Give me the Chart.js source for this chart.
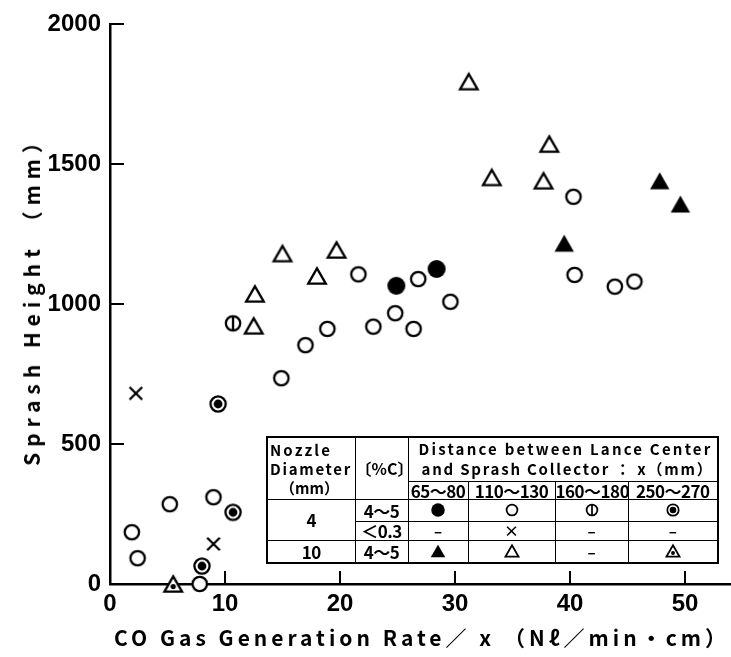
<!DOCTYPE html>
<html>
<head>
<meta charset="utf-8">
<script src="https://cdn.jsdelivr.net/npm/chart.js@4/dist/chart.umd.min.js"></script>
<style>
  body { margin: 0; background: #fff; }
  #wrap { position: relative; width: 731px; height: 657px; overflow: hidden; }
  #chart { position: absolute; left: 0; top: 0; }
  .title { position: absolute; font-family: "Noto Sans CJK JP", "DejaVu Sans", sans-serif; font-weight: 700; color: #000;
           white-space: nowrap; font-size: 21px; line-height: 30px; }
  #xTitle { left: 114px; top: 622px; }
  #yTitle { left: 31px; top: 296px; transform: translate(-50%, -50%) rotate(-90deg); }
  #legendTable { position: absolute; left: 266px; top: 436px; width: 451px; border-collapse: collapse; table-layout: fixed;
                 border: 2px solid #000; font-family: "Noto Sans CJK JP", "DejaVu Sans", sans-serif; font-weight: 700;
                 font-size: 15px; color: #000; }
  #legendTable td { border: 1.5px solid #000; padding: 0; text-align: center; vertical-align: middle; line-height: 15px;
                    overflow: hidden; white-space: nowrap; }
  #legendTable td.num { font-family: "Liberation Sans Narrow", "Noto Sans CJK JP", sans-serif; font-size: 17px; letter-spacing: -0.5px; }
  #legendTable td canvas { display: block; margin: 0 auto; }
  .line { display: block; white-space: nowrap; text-align: left; }
</style>
</head>
<body>
<div id="wrap">
  <canvas id="chart" width="731" height="657"></canvas>
  <div class="title fit" id="yTitle" data-w="340">Sprash Height （mm）</div>
  <div class="title fit" id="xTitle" data-w="616">CO Gas Generation Rate／ x （Nℓ／min・cm）</div>
  <table id="legendTable">
    <colgroup>
      <col style="width:88px"><col style="width:53px"><col style="width:60px">
      <col style="width:87px"><col style="width:73px"><col style="width:90px">
    </colgroup>
    <tr style="height:44px">
      <td rowspan="2" style="text-align:left; padding-left:2px; line-height:19px">
        <span class="line fit" data-w="62">Nozzle</span><span class="line fit" data-w="82">Diameter</span><span class="line" style="padding-left:10px">（mm）</span>
      </td>
      <td rowspan="2" style="font-size:16px">〔%C〕</td>
      <td colspan="4" style="line-height:20px">
        <span class="line fit" data-w="294" style="margin-left:10px">Distance between Lance Center</span>
        <span class="line fit" data-w="292" style="margin-left:13px">and Sprash Collector ： x（mm）</span>
      </td>
    </tr>
    <tr style="height:18px" id="rangeRow"></tr>
    <tr style="height:22px" id="row1"></tr>
    <tr style="height:19px" id="row2"></tr>
    <tr style="height:23px" id="row3"></tr>
  </table>
</div>
<script>
// Sprash height vs CO gas generation rate, grouped by nozzle / carbon / lance distance
const openCircle = [[1.9, 185], [2.4, 92], [5.2, 285], [9.0, 310], [7.8, 0], [14.9, 735], [17.0, 853],
  [18.9, 911], [21.6, 1106], [22.9, 919], [24.8, 967], [26.4, 911], [26.8, 1089], [29.6, 1008],
  [40.3, 1383], [40.4, 1104], [43.9, 1062], [45.6, 1080]];
const solidCircle = [[24.9, 1065], [28.4, 1125]];
const splitCircle = [[10.7, 931]];
const dotCircle = [[9.4, 643], [8.0, 64], [10.7, 256]];
const crossMark = [[2.25, 681], [9.0, 143]];
const openTriangle = [[12.6, 1036], [12.5, 922], [15.0, 1180], [18.0, 1100], [19.7, 1193],
  [31.2, 1794], [33.2, 1452], [37.7, 1440], [38.2, 1571]];
const solidTriangle = [[39.5, 1217], [47.8, 1440], [49.6, 1357]];
const dotTriangle = [[5.5, 0]];

// legend table text
const distanceRanges = ['65～80', '110～130', '160～180', '250～270'];
const nozzleSizes = ['4', '10'];
const carbonLevels = ['4～5', '＜0.3', '4～5'];

const xTicks = [0, 10, 20, 30, 40, 50];
const yTicks = [0, 500, 1000, 1500, 2000];

// marker glyphs drawn on small canvases, k scales them
function marker(k, draw) {
  const size = Math.ceil(26 * k);
  const c = document.createElement('canvas');
  c.width = c.height = size;
  const g = c.getContext('2d');
  g.translate(size / 2, size / 2);
  g.strokeStyle = '#000';
  g.fillStyle = '#000';
  g.lineWidth = 2.3 * k;
  draw(g, k);
  return c;
}
function ring(g, r) {
  g.beginPath();
  g.arc(0, 0, r, 0, Math.PI * 2);
  g.fillStyle = '#fff';
  g.fill();
  g.stroke();
  g.fillStyle = '#000';
}
function tri(g, hw) {
  const h = hw * Math.sqrt(3);
  g.beginPath();
  g.moveTo(0, -h / 2);
  g.lineTo(hw, h / 2);
  g.lineTo(-hw, h / 2);
  g.closePath();
}
const glyphs = {
  openCircle: (g, k) => ring(g, 7.2 * k),
  solidCircle: (g, k) => { g.beginPath(); g.arc(0, 0, 9 * k, 0, Math.PI * 2); g.fill(); },
  splitCircle: (g, k) => {
    ring(g, 7.2 * k);
    g.beginPath(); g.moveTo(0, -7.2 * k); g.lineTo(0, 7.2 * k); g.stroke();
  },
  dotCircle: (g, k) => {
    ring(g, 7.6 * k);
    g.beginPath(); g.arc(0, 0, 4.4 * k, 0, Math.PI * 2); g.fill();
  },
  crossMark: (g, k) => {
    const d = 6.3 * k;
    g.beginPath(); g.moveTo(-d, -d); g.lineTo(d, d); g.moveTo(d, -d); g.lineTo(-d, d); g.stroke();
  },
  openTriangle: (g, k) => {
    g.lineJoin = 'miter';
    tri(g, 8.8 * k);
    g.fillStyle = '#fff'; g.fill(); g.stroke();
  },
  solidTriangle: (g, k) => { tri(g, 9.7 * k); g.fill(); },
  dotTriangle: (g, k) => {
    g.lineJoin = 'miter';
    tri(g, 8.8 * k);
    g.fillStyle = '#fff'; g.fill(); g.stroke();
    g.fillStyle = '#000';
    g.beginPath(); g.arc(0, 2.6 * k, 2.6 * k, 0, Math.PI * 2); g.fill();
  }
};

const series = { openCircle, solidCircle, splitCircle, dotCircle, crossMark, openTriangle, solidTriangle, dotTriangle };

const datasets = Object.keys(series).map(name => ({
  label: name,
  data: series[name].map(p => ({ x: p[0], y: p[1] })),
  pointStyle: marker(1, glyphs[name]),
  pointRadius: 9,
  clip: false
}));

const inwardTicks = {
  id: 'inwardTicks',
  beforeDatasetsDraw(chart) {
    const { ctx, chartArea: a, scales: { x, y } } = chart;
    ctx.save();
    ctx.strokeStyle = '#000';
    ctx.lineWidth = 2;
    ctx.beginPath();
    y.ticks.forEach(t => {
      if (t.value === 0) return;
      const py = Math.round(y.getPixelForValue(t.value));
      ctx.moveTo(a.left, py);
      ctx.lineTo(a.left + 14, py);
    });
    x.ticks.forEach(t => {
      if (t.value === 0) return;
      const px = Math.round(x.getPixelForValue(t.value));
      ctx.moveTo(px, a.bottom);
      ctx.lineTo(px, a.bottom - 13);
    });
    ctx.stroke();
    ctx.restore();
  }
};

const tickFont = { family: '"Liberation Sans Narrow", "Liberation Sans", sans-serif', weight: 'bold', size: 24 };
const plain = v => String(v);

new Chart(document.getElementById('chart'), {
  type: 'scatter',
  data: { datasets },
  options: {
    responsive: false,
    animation: false,
    devicePixelRatio: 1,
    layout: { autoPadding: false, padding: { top: 24, right: 0, left: 0, bottom: 0 } },
    plugins: { legend: { display: false }, tooltip: { enabled: false } },
    scales: {
      x: {
        type: 'linear', min: 0, max: 54,
        afterBuildTicks: s => { s.ticks = xTicks.map(v => ({ value: v })); },
        afterFit: s => { s.height = 73; },
        grid: { display: false, drawTicks: false },
        border: { display: true, color: '#000', width: 2.5 },
        ticks: { color: '#000', font: tickFont, padding: 6, maxRotation: 0, callback: plain }
      },
      y: {
        type: 'linear', min: 0, max: 2000,
        afterBuildTicks: s => { s.ticks = yTicks.map(v => ({ value: v })); },
        afterFit: s => { s.width = 110; },
        grid: { display: false, drawTicks: false },
        border: { display: true, color: '#000', width: 2.5 },
        ticks: { color: '#000', font: tickFont, padding: 9, callback: plain }
      }
    }
  },
  plugins: [inwardTicks]
});

// fill in the legend table rows
function cellText(tr, text, cls) {
  const td = document.createElement('td');
  td.textContent = text;
  if (cls) td.className = cls;
  tr.appendChild(td);
  return td;
}
function cellGlyph(tr, name) {
  const td = document.createElement('td');
  td.appendChild(marker(0.75, glyphs[name]));
  tr.appendChild(td);
}
const rangeRow = document.getElementById('rangeRow');
distanceRanges.forEach(r => cellText(rangeRow, r, 'num'));

const row1 = document.getElementById('row1');
const noz = cellText(row1, nozzleSizes[0], 'num');
noz.rowSpan = 2;
cellText(row1, carbonLevels[0], 'num');
['solidCircle', 'openCircle', 'splitCircle', 'dotCircle'].forEach(n => cellGlyph(row1, n));

const row2 = document.getElementById('row2');
cellText(row2, carbonLevels[1], 'num');
['–', '×', '–', '–'].forEach(t => cellText(row2, t));

const row3 = document.getElementById('row3');
cellText(row3, nozzleSizes[1], 'num');
cellText(row3, carbonLevels[2], 'num');
cellGlyph(row3, 'solidTriangle');
cellGlyph(row3, 'openTriangle');
cellText(row3, '–');
cellGlyph(row3, 'dotTriangle');

// spread letters so each title line covers its width
document.querySelectorAll('.fit').forEach(el => {
  el.style.display = 'inline-block';
  const len = el.id === 'yTitle' ? el.offsetWidth : el.getBoundingClientRect().width;
  const n = el.textContent.length;
  el.style.letterSpacing = ((+el.dataset.w - len) / n) + 'px';
  if (el.classList.contains('line')) el.style.display = 'block';
});
</script>
</body>
</html>
